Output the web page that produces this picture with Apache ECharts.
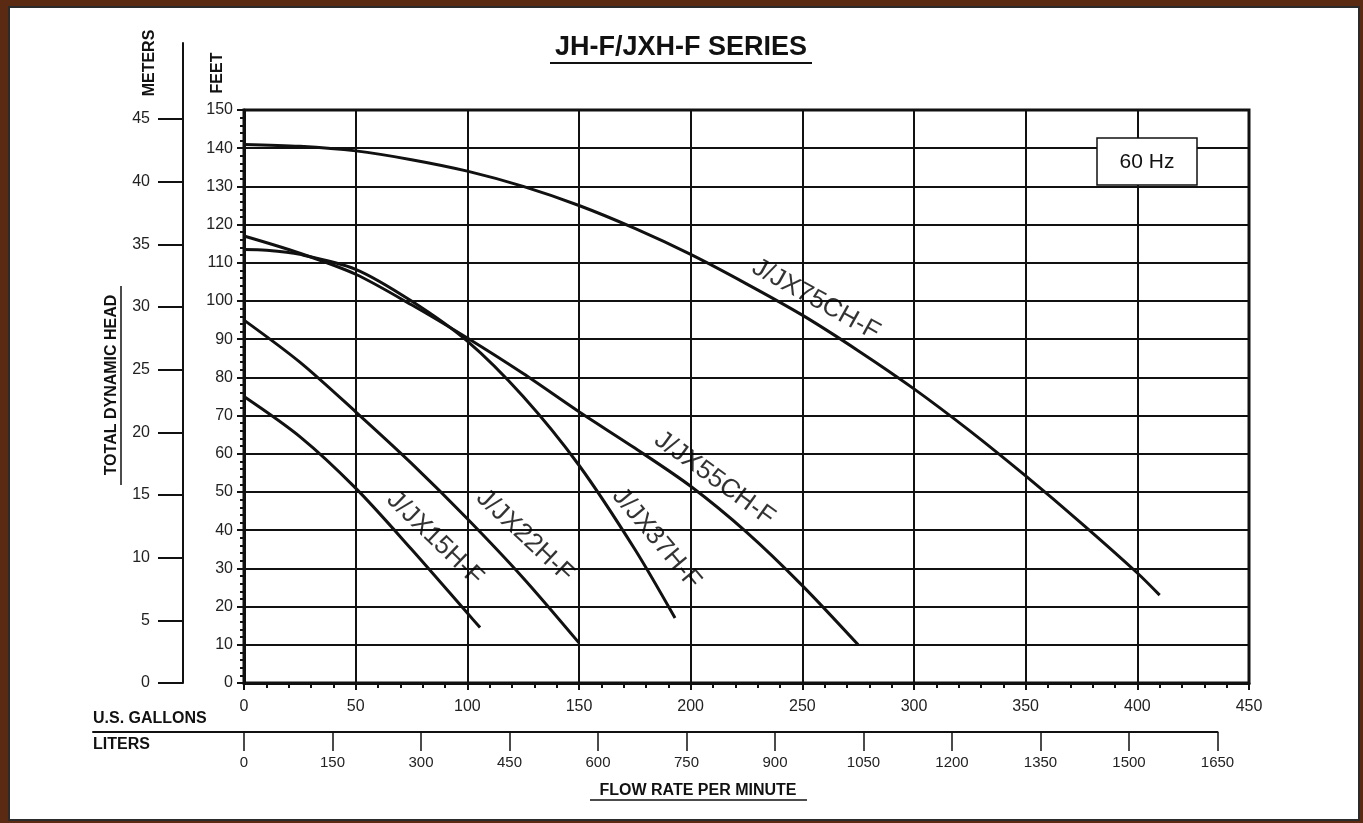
<!DOCTYPE html>
<html>
<head>
<meta charset="utf-8">
<title>JH-F/JXH-F SERIES</title>
<script src="https://cdn.jsdelivr.net/npm/echarts@6/dist/echarts.min.js"></script>
<style>
  html, body { margin: 0; padding: 0; width: 1363px; height: 823px; overflow: hidden; background: #5a2b12; }
  #frame { position: absolute; left: 8px; top: 6px; width: 1348px; height: 811px; background: #fff; border: 2px solid #2b2b2b; }
  #chart { position: absolute; left: 0; top: 0; width: 1363px; height: 823px; }
</style>
</head>
<body>
<div id="frame"></div>
<div id="chart"></div>
<script>
// pump curves: flow in US gallons per minute, head in feet
const flow15 = [0, 25, 50, 75, 100, 105.7];
const head15 = [75, 64.5, 51, 35, 18.3, 14.5];

const flow22 = [0, 25, 50, 75, 100, 125, 150];
const head22 = [95, 84, 71, 57.5, 43, 27.5, 10.5];

const flow37 = [0, 10, 25, 50, 75, 100, 125, 150, 175, 193];
const head37 = [113.5, 113.3, 112.2, 108.3, 100, 89.5, 75, 57, 35, 17];

const flow55 = [0, 25, 50, 75, 100, 125, 150, 175, 200, 225, 250, 275];
const head55 = [117, 112.5, 107, 99, 90.3, 81, 71, 61.5, 51.5, 39.5, 25.5, 10];

const flow75 = [0, 25, 50, 75, 100, 125, 150, 175, 200, 225, 250, 275, 300, 325, 350, 375, 400, 410];
const head75 = [141, 140.5, 139.3, 137, 134, 130, 125, 119, 112.2, 104.5, 96.3, 87, 77, 66, 54.2, 41.8, 28.8, 23];

// curve names and where their text sits (gallons, feet), text angle
const curveNames = ['J/JX15H-F', 'J/JX22H-F', 'J/JX37H-F', 'J/JX55CH-F', 'J/JX75CH-F'];
const labelPos = [[85.5, 37.8], [125.8, 38.5], [184.7, 37.8], [210.7, 53.5], [256.1, 100.3]];
const labelAngle = [-44, -43, -50, -36, -29];

// tick labels
const meterTicks = [0, 5, 10, 15, 20, 25, 30, 35, 40, 45];
const literTicks = [0, 150, 300, 450, 600, 750, 900, 1050, 1200, 1350, 1500, 1650];

const GAL_TO_L = 3.78541;
const FT_TO_M = 0.3048;

// layout of the main plot
const plotLeft = 244, plotRight = 1249, plotTop = 110, plotBottom = 683;
const W = 1363, H = 823;
const pxPerGal = (plotRight - plotLeft) / 450;
const pxPerFt = (plotBottom - plotTop) / 150;
const pxPerL = pxPerGal / GAL_TO_L;
const pxPerM = pxPerFt / FT_TO_M;
const literLineLeft = 93;
const literMin = -(plotLeft - literLineLeft) / pxPerL;
const literRightPx = plotLeft + 1650 * pxPerL;
const meterTop = 43;
const meterMax = (plotBottom - meterTop) / pxPerM;

const ink = '#111';
const font = 'Liberation Sans, Arial, sans-serif';

function zip(xs, ys) { return xs.map((x, i) => [x, ys[i]]); }

const curves = [
  [flow15, head15], [flow22, head22], [flow37, head37], [flow55, head55], [flow75, head75]
];

var myChart = echarts.init(document.getElementById('chart'), null, { renderer: 'canvas' });

let option = {
  animation: false,
  textStyle: { fontFamily: font, color: ink },
  grid: [
    { left: plotLeft, right: W - plotRight, top: plotTop, bottom: H - plotBottom,
      show: true, borderColor: ink, borderWidth: 3, backgroundColor: 'transparent' },
    { left: 183, width: 10, top: meterTop, bottom: H - plotBottom },
    { left: literLineLeft, right: W - literRightPx, top: 700, bottom: H - 732 }
  ],
  xAxis: [
    {
      gridIndex: 0, type: 'value', min: 0, max: 450, interval: 50,
      axisLine: { onZero: false, lineStyle: { color: ink, width: 3 } },
      axisTick: { length: 7, lineStyle: { color: ink, width: 2 } },
      minorTick: { show: true, splitNumber: 5, length: 5, lineStyle: { color: ink, width: 2 } },
      splitLine: { lineStyle: { color: ink, width: 2 } },
      axisLabel: { fontSize: 16, margin: 16, color: '#222', fontFamily: font }
    },
    { gridIndex: 1, type: 'value', show: false },
    {
      gridIndex: 2, type: 'value', min: literMin, max: 1650, position: 'bottom',
      axisLine: { onZero: false, lineStyle: { color: ink, width: 2 } },
      axisTick: { length: 19, customValues: literTicks, lineStyle: { color: ink, width: 1.5 } },
      axisLabel: { customValues: literTicks, formatter: v => String(v), fontSize: 15, margin: 23, color: '#222', fontFamily: font },
      splitLine: { show: false }
    }
  ],
  yAxis: [
    {
      gridIndex: 0, type: 'value', min: 0, max: 150, interval: 10,
      axisLine: { onZero: false, lineStyle: { color: ink, width: 3 } },
      axisTick: { length: 7, lineStyle: { color: ink, width: 2 } },
      minorTick: { show: true, splitNumber: 5, length: 4, lineStyle: { color: ink, width: 2 } },
      splitLine: { lineStyle: { color: ink, width: 2 } },
      axisLabel: { fontSize: 16, margin: 11, color: '#222', fontFamily: font }
    },
    {
      gridIndex: 1, type: 'value', min: 0, max: meterMax, position: 'left',
      axisLine: { onZero: false, lineStyle: { color: ink, width: 2 } },
      axisTick: { length: 25, customValues: meterTicks, lineStyle: { color: ink, width: 2 } },
      axisLabel: { customValues: meterTicks, fontSize: 16, margin: 33, color: '#222', fontFamily: font },
      splitLine: { show: false }
    },
    { gridIndex: 2, type: 'value', show: false }
  ],
  series: curves.map((c, i) => ({
    name: curveNames[i],
    type: 'line',
    xAxisIndex: 0,
    yAxisIndex: 0,
    data: zip(c[0], c[1]),
    smooth: 0.3,
    showSymbol: false,
    silent: true,
    lineStyle: { color: ink, width: 3 }
  })).concat([{
    name: 'curve labels',
    type: 'scatter',
    xAxisIndex: 0,
    yAxisIndex: 0,
    symbolSize: 1,
    silent: true,
    itemStyle: { color: 'rgba(0,0,0,0)' },
    label: {
      show: true, position: 'inside', formatter: '{b}',
      fontSize: 26, color: '#000', fontFamily: font
    },
    data: curveNames.map((n, i) => ({ name: n, value: labelPos[i], label: { rotate: labelAngle[i] } }))
  }]),
  graphic: [
    // title
    { type: 'text', x: 681, y: 48, style: { text: 'JH-F/JXH-F SERIES', font: 'bold 27px ' + font, fill: ink, textAlign: 'center', textVerticalAlign: 'middle' } },
    { type: 'line', shape: { x1: 550, y1: 63, x2: 812, y2: 63 }, style: { stroke: ink, lineWidth: 2 } },
    // axis titles
    { type: 'text', x: 150, y: 63, rotation: Math.PI / 2, style: { text: 'METERS', font: 'bold 16px ' + font, fill: ink, textAlign: 'center', textVerticalAlign: 'middle' } },
    { type: 'text', x: 218, y: 73, rotation: Math.PI / 2, style: { text: 'FEET', font: 'bold 16px ' + font, fill: ink, textAlign: 'center', textVerticalAlign: 'middle' } },
    { type: 'text', x: 112, y: 385, rotation: Math.PI / 2, style: { text: 'TOTAL DYNAMIC HEAD', font: 'bold 16px ' + font, fill: ink, textAlign: 'center', textVerticalAlign: 'middle' } },
    { type: 'line', shape: { x1: 121, y1: 286, x2: 121, y2: 485 }, style: { stroke: ink, lineWidth: 1.5 } },
    { type: 'text', x: 93, y: 719, style: { text: 'U.S. GALLONS', font: 'bold 16px ' + font, fill: ink, textAlign: 'left', textVerticalAlign: 'middle' } },
    { type: 'text', x: 93, y: 745, style: { text: 'LITERS', font: 'bold 16px ' + font, fill: ink, textAlign: 'left', textVerticalAlign: 'middle' } },
    { type: 'text', x: 698, y: 791, style: { text: 'FLOW RATE PER MINUTE', font: 'bold 16px ' + font, fill: ink, textAlign: 'center', textVerticalAlign: 'middle' } },
    { type: 'line', shape: { x1: 590, y1: 800, x2: 807, y2: 800 }, style: { stroke: ink, lineWidth: 1.5 } },
    // frequency box
    { type: 'rect', shape: { x: 1097, y: 138, width: 100, height: 47 }, style: { fill: '#fff', stroke: ink, lineWidth: 1.5 }, z: 10 },
    { type: 'text', x: 1147, y: 162, z: 11, style: { text: '60 Hz', font: '21px ' + font, fill: ink, textAlign: 'center', textVerticalAlign: 'middle' } }
  ]
};

myChart.setOption(option);
</script>
</body>
</html>
